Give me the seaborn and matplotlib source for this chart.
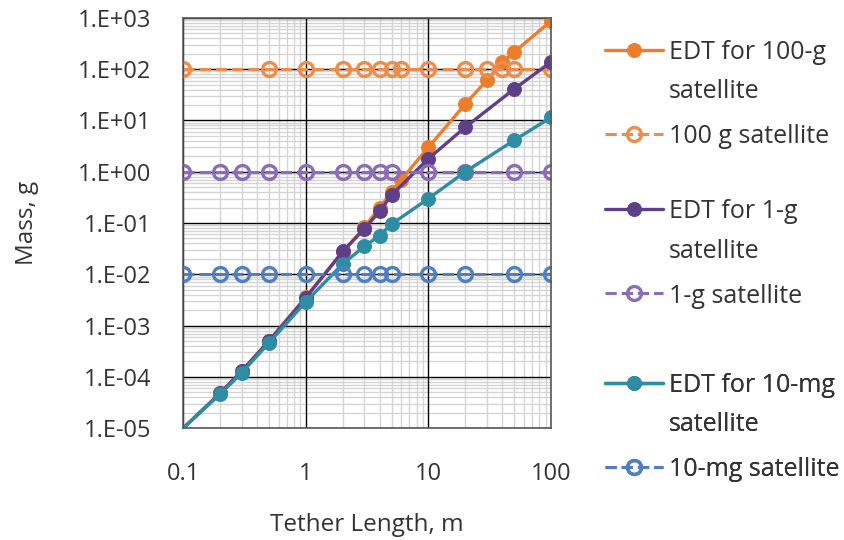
import matplotlib
matplotlib.use("Agg")
import matplotlib.pyplot as plt
import matplotlib.ticker as mticker
import seaborn as sns
import numpy as np

# ---- data ----
x_edt100 = [0.1, 0.2, 0.3, 0.5, 1, 2, 3, 4, 5, 6, 10, 20, 30, 40, 50, 100]
m_edt100 = [1e-5, 4.8e-5, 1.3e-4, 5.0e-4, 3.6e-3, 0.027, 0.082, 0.20, 0.40, 0.70, 3.0, 21, 61, 137, 215, 870]

x_sat100 = [0.1, 0.5, 1, 2, 3, 4, 5, 6, 10, 20, 30, 40, 50, 100]
m_sat100 = [100] * len(x_sat100)

x_edt1 = [0.1, 0.2, 0.3, 0.5, 1, 2, 3, 4, 5, 10, 20, 50, 100]
m_edt1 = [1e-5, 4.8e-5, 1.3e-4, 5.0e-4, 3.5e-3, 0.028, 0.077, 0.17, 0.35, 1.8, 7.4, 41, 138]

x_sat1 = [0.1, 0.2, 0.3, 0.5, 1, 2, 3, 4, 5, 10, 20, 50, 100]
m_sat1 = [1] * len(x_sat1)

x_edt10mg = [0.1, 0.2, 0.3, 0.5, 1, 2, 3, 4, 5, 10, 20, 50, 100]
m_edt10mg = [1e-5, 4.6e-5, 1.2e-4, 4.6e-4, 2.9e-3, 0.016, 0.035, 0.057, 0.095, 0.30, 1.0, 4.1, 11.5]

x_sat10mg = [0.1, 0.2, 0.3, 0.5, 1, 2, 3, 4, 5, 10, 20, 50, 100]
m_sat10mg = [0.01] * len(x_sat10mg)

labels = ["EDT for 100-g\nsatellite", "100 g satellite", "EDT for 1-g\nsatellite",
          "1-g satellite", "EDT for 10-mg\nsatellite", "10-mg satellite"]
y_ticks = [1e-5, 1e-4, 1e-3, 1e-2, 1e-1, 1e0, 1e1, 1e2, 1e3]
x_ticks = [0.1, 1, 10, 100]
x_ticklabels = ["0.1", "1", "10", "100"]

# ---- style ----
sns.set_theme(style="white")
plt.rcParams['font.family'] = ['Open Sans', 'DejaVu Sans']

fig = plt.figure(figsize=(8.44, 5.4), dpi=100)
ax = fig.add_axes([0.217, 0.207, 0.436, 0.760])

c_edt100 = "#EE7D2B"
c_sat100 = "#EE8C4A"
c_edt1 = "#5E3F8A"
c_sat1 = "#8C6BB8"
c_edt10 = "#2E8CA3"
c_sat10 = "#4F7EC2"

series = [
    (x_edt100, m_edt100, c_edt100, "-", True),
    (x_sat100, m_sat100, c_sat100, "--", False),
    (x_edt1, m_edt1, c_edt1, "-", True),
    (x_sat1, m_sat1, c_sat1, "--", False),
    (x_edt10mg, m_edt10mg, c_edt10, "-", True),
    (x_sat10mg, m_sat10mg, c_sat10, "--", False),
]

for (xs, ys, col, ls, filled), lab in zip(series, labels):
    if filled:
        sns.lineplot(x=xs, y=ys, ax=ax, color=col, linestyle=ls, linewidth=2.4,
                     marker="o", markersize=10, markerfacecolor=col, markeredgecolor=col,
                     markevery=list(range(1, len(xs))), label=lab, estimator=None, sort=False)
    else:
        sns.lineplot(x=xs, y=ys, ax=ax, color=col, linestyle=ls, linewidth=2.2,
                     marker="o", markersize=10, markerfacecolor="none",
                     markeredgecolor=col, markeredgewidth=2.4, label=lab,
                     estimator=None, sort=False)

ax.set_xscale("log")
ax.set_yscale("log")
ax.set_xlim(0.1, 100)
ax.set_ylim(1e-5, 1e3)

ax.set_yticks(y_ticks)
ax.yaxis.set_major_formatter(mticker.FuncFormatter(lambda v, p: "1.E%+03d" % int(round(np.log10(v)))))
ax.set_xticks(x_ticks)
ax.set_xticklabels(x_ticklabels)
ax.yaxis.set_minor_locator(mticker.LogLocator(base=10, subs=np.arange(2, 10), numticks=20))
ax.xaxis.set_minor_locator(mticker.LogLocator(base=10, subs=np.arange(2, 10), numticks=20))
ax.yaxis.set_minor_formatter(mticker.NullFormatter())
ax.xaxis.set_minor_formatter(mticker.NullFormatter())

# minor grid from the axis, major grid drawn above it
ax.grid(which="minor", color="#d4d4d4", linewidth=1.0, linestyle="-")
ax.grid(which="major", visible=False)
ax.set_axisbelow(True)
for yv in y_ticks:
    ax.axhline(yv, color="#000000", linewidth=1.0, zorder=1)
for xv in x_ticks:
    ax.axvline(xv, color="#000000", linewidth=1.0, zorder=1)

ax.tick_params(which="both", length=0, labelsize=17, colors="#333333")
ax.tick_params(axis="y", pad=23)
ax.tick_params(axis="x", pad=24)

for s in ax.spines.values():
    s.set_color("#595959")
    s.set_linewidth(1.2)
    s.set_zorder(3)

ax.set_xlabel("Tether Length, m", fontsize=17.5, color="#333333", labelpad=20)
ax.set_ylabel("Mass, g", fontsize=17.5, color="#333333", labelpad=28)

handles, labs = ax.get_legend_handles_labels()
if ax.get_legend():
    ax.get_legend().remove()

tops = [0.926, 0.631, 0.309]
for i, top in enumerate(tops):
    leg = ax.legend(handles[2 * i:2 * i + 2], labs[2 * i:2 * i + 2], loc="upper left",
                    bbox_to_anchor=(0.717, top), bbox_transform=fig.transFigure,
                    frameon=False, fontsize=18, handlelength=2.3, handletextpad=0.25,
                    handleheight=1.0, labelspacing=0.8, borderaxespad=0, borderpad=0,
                    labelcolor="#333333")
    for t in leg.get_texts():
        t.set_linespacing(1.75)
    # align each handle with the first line of its label
    try:
        for col in leg._legend_handle_box.get_children():
            for item in col.get_children():
                item.align = "top"
    except Exception:
        pass
    ax.add_artist(leg)

fig.savefig("out.png", dpi=100)
